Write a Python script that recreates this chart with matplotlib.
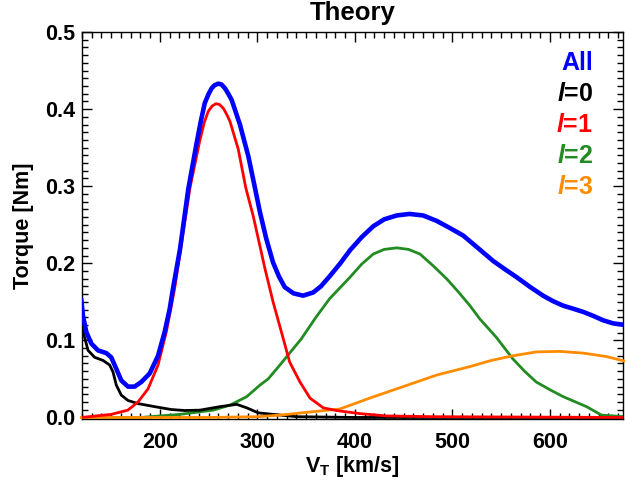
import numpy as np
import matplotlib.pyplot as plt
from matplotlib.ticker import MultipleLocator, FormatStrFormatter

plt.rcParams['font.family'] = ['Liberation Sans', 'DejaVu Sans']
plt.rcParams['font.weight'] = 'bold'
plt.rcParams['mathtext.fontset'] = 'custom'
plt.rcParams['mathtext.rm'] = 'Liberation Sans:bold'
plt.rcParams['mathtext.bf'] = 'Liberation Sans:bold'
plt.rcParams['mathtext.it'] = 'Liberation Sans:italic:bold'

# torque vs. tip velocity
v_all = [119.3, 121, 124.4, 129.5, 136.4, 144.9, 150, 155.2, 160.3, 167.2, 174,
         180.8, 189.4, 198, 204.8, 210, 213.3, 220.5, 229, 237.6, 242, 246, 250,
         253, 256, 259.8, 263, 266.7, 270, 273.5, 282, 290.6, 297.4, 302.6, 309,
         316, 322, 328, 337, 346.7, 357, 365, 374, 385, 395, 407, 418.8, 430, 442.8,
         456, 470, 483.8, 497, 511, 526, 541.8, 553, 565.8, 580, 593, 603, 613.6,
         624, 634, 644, 654.7, 665, 677]
t_all = [0.152, 0.132, 0.111, 0.096, 0.087, 0.0835, 0.078, 0.063, 0.048, 0.040,
         0.040, 0.046, 0.057, 0.080, 0.111, 0.141, 0.167, 0.218, 0.296, 0.356, 0.385,
         0.408, 0.420, 0.427, 0.431, 0.433, 0.432, 0.427, 0.420, 0.412, 0.380, 0.339,
         0.298, 0.266, 0.232, 0.201, 0.183, 0.169, 0.161, 0.158, 0.162, 0.170, 0.183,
         0.200, 0.217, 0.234, 0.248, 0.257, 0.262, 0.264, 0.262, 0.255, 0.246, 0.236,
         0.220, 0.203, 0.193, 0.182, 0.169, 0.158, 0.151, 0.145, 0.141, 0.137, 0.132,
         0.126, 0.122, 0.120]

v_l0 = [119.3, 121, 126.2, 133, 141.5, 148.4, 151.8, 155.2, 160.3, 167.2, 177.4,
        194.6, 211.6, 225.3, 241, 261.5, 278.7, 289, 300.8, 316, 340, 400, 677]
t_l0 = [0.125, 0.112, 0.087, 0.078, 0.074, 0.068, 0.059, 0.042, 0.029, 0.022, 0.018,
        0.014, 0.0103, 0.009, 0.0095, 0.014, 0.017, 0.0125, 0.006, 0.004, 0.001, 0.0,
        0.0]

v_l1 = [119.3, 150, 167, 177.4, 187.7, 198, 206.5, 215, 222, 230.8, 241, 245.5,
        249.5, 253.5, 257.4, 261, 265, 268.5, 271.8, 280.3, 288, 295.7, 307.7, 316,
        326.5, 333, 343.6, 354, 367.5, 381, 405, 432.5, 480, 677]
t_l1 = [0.0, 0.004, 0.0095, 0.020, 0.037, 0.068, 0.111, 0.167, 0.225, 0.298, 0.360,
        0.383, 0.397, 0.404, 0.407, 0.406, 0.401, 0.393, 0.384, 0.348, 0.298, 0.261,
        0.193, 0.150, 0.102, 0.072, 0.046, 0.025, 0.0125, 0.009, 0.005, 0.002, 0.001,
        0.0]

v_l2 = [119.3, 180, 220.5, 254.7, 271.8, 289, 302.6, 311, 323, 345, 360, 374, 395,
        407, 418.8, 430, 442.8, 455, 466.7, 480, 494, 506, 518, 528, 545, 562, 574,
        586, 600, 613.6, 637.6, 653, 677]
t_l2 = [0.0, 0.0, 0.004, 0.0095, 0.016, 0.027, 0.042, 0.050, 0.068, 0.102, 0.130,
        0.154, 0.182, 0.199, 0.212, 0.218, 0.220, 0.218, 0.212, 0.197, 0.180, 0.163,
        0.145, 0.128, 0.104, 0.076, 0.060, 0.046, 0.036, 0.027, 0.014, 0.003, 0.001]

v_l3 = [119.3, 250, 300, 323, 357, 384.6, 415, 449.5, 483.8, 518, 540, 562, 586,
        610, 634, 658, 677]
t_l3 = [0.0, 0.0, 0.001, 0.003, 0.0075, 0.011, 0.025, 0.040, 0.055, 0.066, 0.074,
        0.080, 0.085, 0.0857, 0.0835, 0.079, 0.073]

labels = ['All', r'$\mathit{l}$=0', r'$\mathit{l}$=1', r'$\mathit{l}$=2', r'$\mathit{l}$=3']
colors = ['#0000ff', '#000000', '#ff0000', '#228b22', '#ff8c00']

fig = plt.figure(figsize=(6.25, 4.82), dpi=100)
ax = fig.add_axes([82 / 625, 1 - 419 / 482, (623 - 82) / 625, (419 - 32) / 482])

ax.plot(v_l2, t_l2, color=colors[3], lw=2.0)
ax.plot(v_l0, t_l0, color=colors[1], lw=2.0)
ax.plot(v_l3, t_l3, color=colors[4], lw=2.0, clip_on=False, zorder=3)
ax.plot(v_l1, t_l1, color=colors[2], lw=2.0, zorder=3.1)
ax.plot(v_all, t_all, color=colors[0], lw=3.3, zorder=3.2)

ax.set_xlim(120, 675)
ax.set_ylim(-0.002, 0.5)
ax.xaxis.set_major_locator(MultipleLocator(100))
ax.xaxis.set_minor_locator(MultipleLocator(10))
ax.yaxis.set_major_locator(MultipleLocator(0.1))
ax.yaxis.set_minor_locator(MultipleLocator(0.01))
ax.yaxis.set_major_formatter(FormatStrFormatter('%.1f'))
ax.tick_params(which='both', direction='in', top=True, right=True, labelsize=15.5, width=1)
ax.tick_params(which='major', length=7)
ax.tick_params(axis='x', which='major', pad=9)
ax.tick_params(axis='y', which='major', pad=5)
ax.tick_params(which='minor', length=4)
for s in ax.spines.values():
    s.set_linewidth(1)

fig.text(352.5 / 625, 1 - 13 / 482, 'Theory', fontsize=18.5, fontweight='bold',
         ha='center', va='center')
ax.set_xlabel(r'V$_{\mathbf{T}}$ [km/s]', fontsize=15.5, fontweight='bold', labelpad=1)
ax.set_ylabel('Torque [Nm]', fontsize=15.5, fontweight='bold', labelpad=8)

for i, (lab, c) in enumerate(zip(labels, colors)):
    ax.text(0.945, 0.92 - i * 0.08, lab, color=c, fontsize=18, fontweight='bold',
            ha='right', va='center', transform=ax.transAxes)

fig.savefig('out.png', dpi=100)
